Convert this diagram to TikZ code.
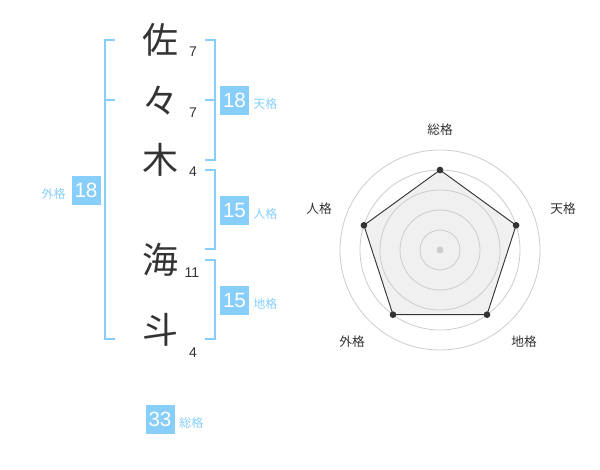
\documentclass[tikz,border=0pt]{standalone}
\usepackage{fontspec}
\setmainfont{Noto Sans CJK JP}
\newfontfamily\numfont{Liberation Sans}
\definecolor{sky}{HTML}{87CEFA}
\definecolor{ink}{HTML}{333333}
\definecolor{grid}{HTML}{CCCCCC}
\definecolor{area}{HTML}{F0F0F0}
\begin{document}
\begin{tikzpicture}[x=0.75pt,y=-0.75pt,
  kanji/.style={inner sep=0pt,text=ink,font=\fontsize{27}{27}\selectfont},
  stroke/.style={inner sep=0pt,text=ink,font=\numfont\fontsize{10.5}{10.5}\selectfont},
  valbox/.style={fill=sky,text=white,minimum width=21.75pt,minimum height=21.75pt,inner sep=0pt,font=\numfont\fontsize{15.5}{15.5}\selectfont},
  vallabel/.style={inner sep=0pt,text=sky,font=\fontsize{9}{9}\selectfont},
  bracket/.style={draw=sky,line width=1.5pt},
  axislabel/.style={inner sep=0pt,text=ink,font=\fontsize{9.5}{9.5}\selectfont},
  ring/.style={draw=grid,line width=0.6pt},
  vdot/.style={circle,fill=ink,inner sep=0pt,minimum size=5pt}]
\useasboundingbox (0,0) rectangle (600,470);
% characters
\node[kanji] (c1) at (160,40) {佐};
\node[kanji] (c2) at (160,101) {々};
\node[kanji] (c3) at (160,160) {木};
\node[kanji] (c4) at (160,260) {海};
\node[kanji] (c5) at (160,330) {斗};
\node[stroke] (n1) at (193,52) {7};
\node[stroke] (n2) at (193,113) {7};
\node[stroke] (n3) at (193,172) {4};
\node[stroke] (n4) at (192,273) {11};
\node[stroke] (n5) at (193,353) {4};
% brackets
\draw[bracket] (115,40) -- (105,40) -- (105,339) -- (115,339);
\draw[bracket] (105,100) -- (115,100);
\draw[bracket] (205,40) -- (215,40) -- (215,160) -- (205,160);
\draw[bracket] (205,100) -- (215,100);
\draw[bracket] (205,170) -- (215,170) -- (215,249) -- (205,249);
\draw[bracket] (205,260) -- (215,260) -- (215,339) -- (205,339);
% values
\node[valbox] (ten) at (234.5,100.5) {18};
\node[vallabel,anchor=west] (tenl) at (253,104) {天格};
\node[valbox] (jin) at (234.5,210.5) {15};
\node[vallabel,anchor=west] (jinl) at (253,214) {人格};
\node[valbox] (chi) at (234.5,300.5) {15};
\node[vallabel,anchor=west] (chil) at (253,304) {地格};
\node[valbox] (gai) at (86,190.5) {18};
\node[vallabel,anchor=east] (gail) at (66,194) {外格};
\node[valbox] (sou) at (160,419) {33};
\node[vallabel,anchor=west] (soul) at (179,423) {総格};
% radar
\coordinate (ctr) at (440,250);
\coordinate (p1) at (440,170);
\coordinate (p2) at (516.1,225.3);
\coordinate (p3) at (487.0,314.7);
\coordinate (p4) at (393.0,314.7);
\coordinate (p5) at (363.9,225.3);
\fill[area] (p1) -- (p2) -- (p3) -- (p4) -- (p5) -- cycle;
\foreach \r in {20,40,60,80,100} \draw[ring] (ctr) circle[radius=\r];
\fill[grid] (ctr) circle[radius=3.5];
\draw[ink,line width=0.7pt] (p1) -- (p2) -- (p3) -- (p4) -- (p5) -- cycle;
\foreach \p in {p1,p2,p3,p4,p5} \node[vdot] at (\p) {};
\node[axislabel] (a1) at (440,130) {総格};
\node[axislabel] (a2) at (563,209) {天格};
\node[axislabel] (a3) at (524,342) {地格};
\node[axislabel] (a4) at (352,342) {外格};
\node[axislabel] (a5) at (319,209) {人格};
\end{tikzpicture}
\end{document}
